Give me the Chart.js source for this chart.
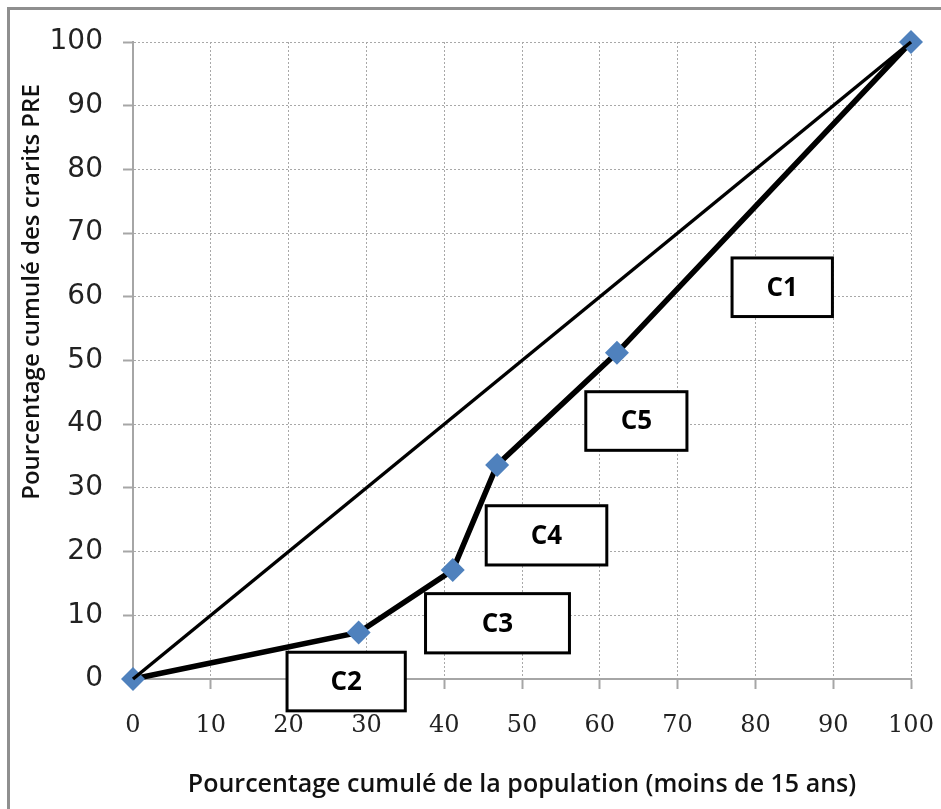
<!DOCTYPE html>
<html>
<head>
<meta charset="utf-8">
<script src="https://cdn.jsdelivr.net/npm/chart.js@4.4.0/dist/chart.umd.min.js"></script>
<style>
  html, body { margin: 0; padding: 0; background: #fff; overflow: hidden; }
  #frame { position: absolute; left: 7px; top: 7px; width: 1000px; height: 1000px; border: 3px solid #8f8f8f; }
  #wrap { position: absolute; left: 0; top: 0; width: 941px; height: 809px; }
</style>
</head>
<body>
<div id="frame"></div>
<div id="wrap"><canvas id="lorenz"></canvas></div>
<script>
// Data: cumulative population (x) vs cumulative PRE credits (y)
const popCumul = [0, 29, 41.1, 46.8, 62.2, 100];
const preCumul = [0, 7.3, 17.1, 33.6, 51.2, 100];
// line of equality
const egaliteX = [0, 100];
const egaliteY = [0, 100];
const tickLabels = ["0", "10", "20", "30", "40", "50", "60", "70", "80", "90", "100"];
const boxLabels = ["C1", "C2", "C3", "C4", "C5"];

// label boxes, in axis units: [xLeft, yTop, xRight, yBottom]
const boxCorners = [
  [77.0, 66.1, 89.9, 56.9],
  [19.8, 4.2, 35.0, -5.0],
  [37.6, 13.4, 56.1, 4.1],
  [45.4, 27.2, 60.9, 17.9],
  [58.2, 45.1, 71.2, 35.9]
];

const toPoints = (xs, ys) => xs.map((v, i) => ({ x: v, y: ys[i] }));

const boxPlugin = {
  id: "boxes",
  afterDatasetsDraw(chart) {
    const { ctx, scales: { x, y } } = chart;
    ctx.save();
    boxCorners.forEach((b, i) => {
      const x1 = x.getPixelForValue(b[0]);
      const y1 = y.getPixelForValue(b[1]);
      const x2 = x.getPixelForValue(b[2]);
      const y2 = y.getPixelForValue(b[3]);
      ctx.fillStyle = "#fff";
      ctx.fillRect(x1, y1, x2 - x1, y2 - y1);
      ctx.lineWidth = 3;
      ctx.strokeStyle = "#000";
      ctx.strokeRect(x1, y1, x2 - x1, y2 - y1);
      ctx.fillStyle = "#000";
      ctx.font = "bold 26px 'Open Sans'";
      ctx.textAlign = "center";
      ctx.textBaseline = "middle";
      ctx.fillText(boxLabels[i], (x1 + x2) / 2, (y1 + y2) / 2 + 1);
    });
    // y axis title, sits higher than the axis middle
    ctx.translate(32, 292);
    ctx.rotate(-Math.PI / 2);
    ctx.fillStyle = "#111";
    ctx.font = "600 24px 'Open Sans'";
    ctx.textAlign = "center";
    ctx.textBaseline = "middle";
    ctx.fillText("Pourcentage cumulé des crarits PRE", 0, 0);
    ctx.restore();
  }
};

const ctx = document.getElementById("lorenz").getContext("2d");

const axisCommon = {
  type: "linear",
  min: 0,
  max: 100,
  grid: {
    color: "#a8a8a8",
    lineWidth: 1,
    tickLength: 10,
    tickColor: "#a6a6a6",
    tickWidth: 2,
    tickBorderDash: []
  },
  border: { color: "#a6a6a6", width: 2, dash: [2, 2] }
};

const lorenzChart = new Chart(ctx, {
  type: "scatter",
  data: {
    datasets: [
      {
        label: "Egalite",
        data: toPoints(egaliteX, egaliteY),
        showLine: true,
        borderColor: "#000",
        borderWidth: 3.5,
        pointRadius: 0,
        clip: false
      },
      {
        label: "Lorenz",
        data: toPoints(popCumul, preCumul),
        showLine: true,
        borderColor: "#000",
        borderWidth: 5.5,
        pointStyle: "rectRot",
        pointRadius: 12,
        pointBackgroundColor: "#4F81BD",
        pointBorderColor: "#4F81BD",
        pointBorderWidth: 0,
        clip: false
      }
    ]
  },
  options: {
    responsive: true,
    maintainAspectRatio: false,
    animation: false,
    layout: { padding: { top: 42, right: 30, left: 0, bottom: 0 } },
    plugins: {
      legend: { display: false },
      tooltip: { enabled: false }
    },
    scales: {
      x: {
        ...axisCommon,
        afterFit: s => { s.height = 130; s.paddingLeft = 0; s.paddingRight = 0; },
        ticks: {
          stepSize: 10,
          padding: 22,
          color: "#222",
          font: { family: "DejaVu Serif", size: 24 },
          callback: (v, i) => tickLabels[i]
        },
        title: {
          display: true,
          text: "Pourcentage cumulé de la population (moins de 15 ans)",
          color: "#111",
          font: { family: "Open Sans", size: 25, weight: "600" },
          padding: { top: 0, bottom: 9 }
        }
      },
      y: {
        ...axisCommon,
        afterFit: s => { s.width = 133; },
        ticks: {
          stepSize: 10,
          padding: 20,
          color: "#222",
          font: { family: "DejaVu Sans", size: 28 },
          callback: (v, i) => tickLabels[i]
        }
      }
    }
  },
  plugins: [boxPlugin]
});
</script>
</body>
</html>
